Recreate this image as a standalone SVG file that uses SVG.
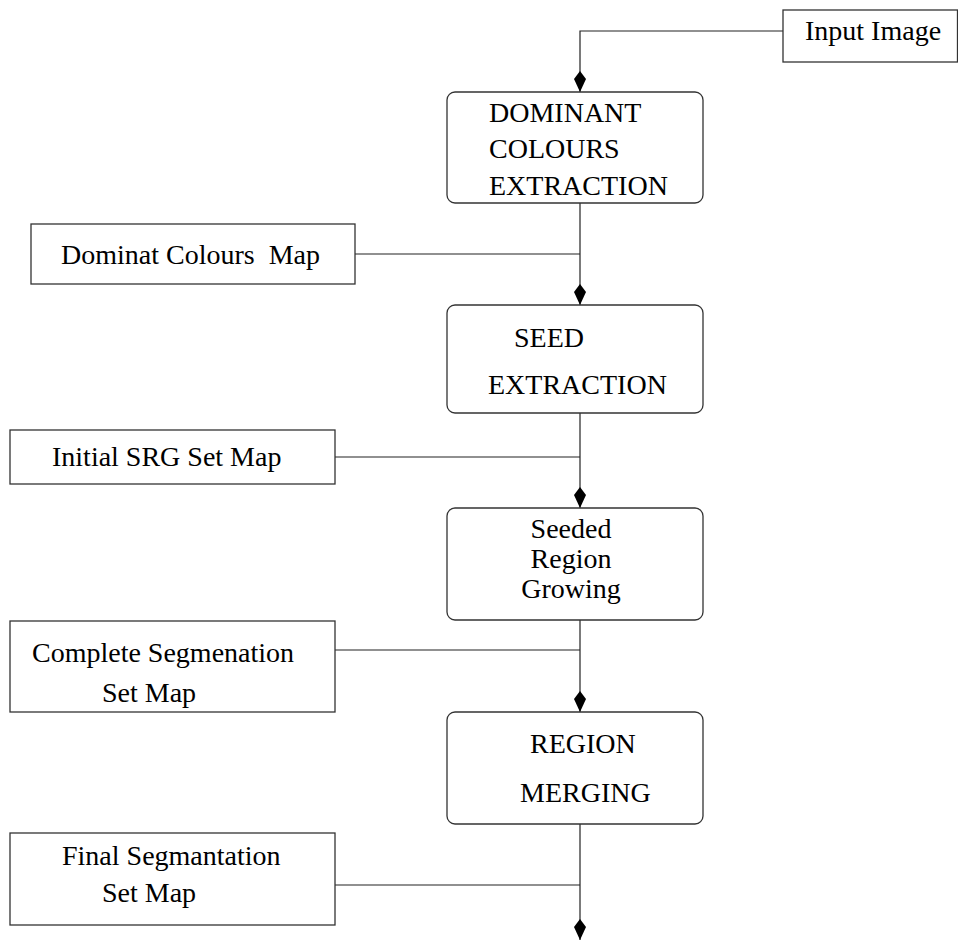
<svg xmlns="http://www.w3.org/2000/svg" width="958" height="941" viewBox="0 0 958 941">
  <style>
    .lbl { font-family: "Liberation Serif", "Times New Roman", "DejaVu Serif", serif; font-size: 28px; fill: #000; }
    .box { fill: #fff; stroke: #333; stroke-width: 1.3; }
    .proc { fill: #fff; stroke: #333; stroke-width: 1.3; }
    .wire { fill: none; stroke: #222; stroke-width: 1.2; }
    .mid { text-anchor: middle; }
  </style>
  <defs>
    <marker id="kite" markerUnits="userSpaceOnUse" markerWidth="22" markerHeight="14" viewBox="0 -7 22 14" refX="21" refY="0" orient="auto" overflow="visible">
      <path d="M0,0 L8,-6 L21,0 L8,6 Z" fill="#000"/>
    </marker>
  </defs>

  <!-- connectors -->
  <g id="connectors">
    <path class="wire" d="M783,31 H580 V92" marker-end="url(#kite)"/>
    <path class="wire" d="M580,203 V305" marker-end="url(#kite)"/>
    <path class="wire" d="M355,254 H580"/>
    <path class="wire" d="M580,413 V508" marker-end="url(#kite)"/>
    <path class="wire" d="M335,457 H580"/>
    <path class="wire" d="M580,620 V712" marker-end="url(#kite)"/>
    <path class="wire" d="M335,650 H580"/>
    <path class="wire" d="M580,824 V940" marker-end="url(#kite)"/>
    <path class="wire" d="M335,885 H580"/>
  </g>

  <!-- input -->
  <g id="input-image">
    <rect class="box" x="783" y="10" width="174.5" height="52"/>
    <text class="lbl" x="805" y="40">Input Image</text>
  </g>

  <!-- processing steps -->
  <g id="dominant-colours-extraction">
    <rect class="proc" x="447" y="92" width="256" height="111" rx="8"/>
    <text class="lbl" x="489" y="122">DOMINANT</text>
    <text class="lbl" x="489" y="158">COLOURS</text>
    <text class="lbl" x="489" y="195">EXTRACTION</text>
  </g>

  <g id="seed-extraction">
    <rect class="proc" x="447" y="305" width="256" height="108" rx="8"/>
    <text class="lbl" x="514" y="347">SEED</text>
    <text class="lbl" x="488" y="394">EXTRACTION</text>
  </g>

  <g id="seeded-region-growing">
    <rect class="proc" x="447" y="508" width="256" height="112" rx="8"/>
    <text class="lbl mid" x="571" y="538">Seeded</text>
    <text class="lbl mid" x="571" y="568">Region</text>
    <text class="lbl mid" x="571" y="598">Growing</text>
  </g>

  <g id="region-merging">
    <rect class="proc" x="447" y="712" width="256" height="112" rx="8"/>
    <text class="lbl" x="530" y="753">REGION</text>
    <text class="lbl" x="520" y="802">MERGING</text>
  </g>

  <!-- output maps -->
  <g id="dominant-colours-map">
    <rect class="box" x="31" y="224" width="324" height="60"/>
    <text class="lbl" x="61" y="264" xml:space="preserve">Dominat Colours  Map</text>
  </g>

  <g id="initial-srg-set-map">
    <rect class="box" x="10" y="430" width="325" height="54"/>
    <text class="lbl" x="52" y="466">Initial SRG Set Map</text>
  </g>

  <g id="complete-segmentation-set-map">
    <rect class="box" x="10" y="621" width="325" height="91"/>
    <text class="lbl" x="32" y="662">Complete Segmenation</text>
    <text class="lbl" x="102" y="702">Set Map</text>
  </g>

  <g id="final-segmentation-set-map">
    <rect class="box" x="10" y="833" width="325" height="92"/>
    <text class="lbl" x="62" y="865">Final Segmantation</text>
    <text class="lbl" x="102" y="902">Set Map</text>
  </g>
</svg>
